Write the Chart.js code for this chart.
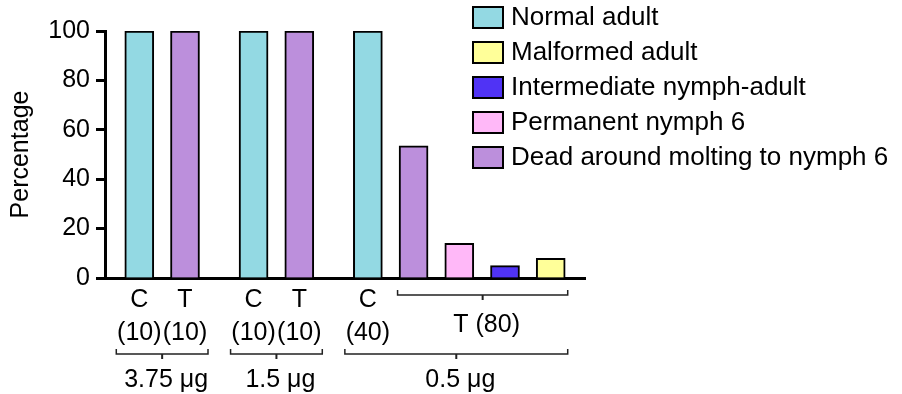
<!DOCTYPE html>
<html>
<head>
<meta charset="utf-8">
<script src="https://cdn.jsdelivr.net/npm/chart.js@4.4.1/dist/chart.umd.min.js"></script>
<style>
  html, body { margin: 0; padding: 0; background: #fff; }
</style>
</head>
<body>
<canvas id="chart" width="902" height="394"></canvas>
<script>
// x slots ('' = spacer between dose groups)
const categories = ['', 'C1', '', 'T1', '', '', 'C2', '', 'T2', '', '', 'C3', '', 'T3a', '', 'T3b', '', 'T3c', '', 'T3d', ''];

// one bar per key, value in percent, outcome index into outcomes[]
const barKeys = ['C1', 'T1', 'C2', 'T2', 'C3', 'T3a', 'T3b', 'T3c', 'T3d'];
const barValues = [100, 100, 100, 100, 100, 53.5, 14, 5, 8];
const barOutcome = [0, 4, 0, 4, 0, 4, 3, 2, 1];

const outcomes = ['Normal adult', 'Malformed adult', 'Intermediate nymph-adult', 'Permanent nymph 6', 'Dead around molting to nymph 6'];
const outcomeColors = ['#93d9e3', '#ffff99', '#5033f5', '#ffb8f8', '#bc8fdc'];

// labels under the axis
const letterKeys = ['C1', 'T1', 'C2', 'T2', 'C3'];
const letterText = ['C', 'T', 'C', 'T', 'C'];
const countText = ['(10)', '(10)', '(10)', '(10)', '(40)'];
const treatedKeys = ['T3a', 'T3d'];
const treatedText = 'T (80)';
const doseGroups = [['C1', 'T1'], ['C2', 'T2'], ['C3', 'T3d']];
const doseText = ['3.75 μg', '1.5 μg', '0.5 μg'];

const yTicks = [0, 20, 40, 60, 80, 100];

const FONT = "'Liberation Sans', Arial, sans-serif";

const datasets = outcomes.map((name, k) => ({
    label: name,
    data: barKeys.map((key, i) => barOutcome[i] === k ? { x: key, y: barValues[i] } : null).filter(d => d),
    backgroundColor: outcomeColors[k],
    borderColor: '#000',
    borderWidth: 2,
    barThickness: 29,
    grouped: false
}));

const extras = {
    id: 'extras',
    afterDraw(chart) {
        const ctx = chart.ctx;
        const xs = chart.scales.x;
        const px = key => xs.getPixelForValue(categories.indexOf(key));
        ctx.save();
        ctx.fillStyle = '#000';
        ctx.font = '25px ' + FONT;
        ctx.textAlign = 'center';
        ctx.textBaseline = 'alphabetic';

        // C / T letters and counts
        letterKeys.forEach((key, i) => {
            ctx.fillText(letterText[i], px(key), 307);
            ctx.fillText(countText[i], px(key), 340);
        });

        ctx.strokeStyle = '#222';
        ctx.lineWidth = 1.5;
        function bracket(left, right, y, down) {
            const mid = (left + right) / 2;
            ctx.beginPath();
            ctx.moveTo(left, y - 5);
            ctx.lineTo(left, y);
            ctx.lineTo(right, y);
            ctx.lineTo(right, y - 5);
            ctx.stroke();
            ctx.beginPath();
            ctx.lineWidth = 2;
            ctx.moveTo(mid, y);
            ctx.lineTo(mid, y + down);
            ctx.stroke();
            ctx.lineWidth = 1.5;
            return mid;
        }

        // bracket over the treated bars of the last group
        const tLeft = px(treatedKeys[0]) - 16;
        const tRight = px(treatedKeys[1]) + 17;
        const tMid = bracket(tLeft, tRight, 295, 5);
        ctx.fillText(treatedText, tMid + 4, 332);

        // dose brackets
        doseGroups.forEach((g, i) => {
            const left = px(g[0]) - 23;
            const right = i === doseGroups.length - 1 ? tRight : px(g[1]) + 23;
            const mid = bracket(left, right, 354, 5);
            ctx.fillText(doseText[i], mid + 4, 387);
        });

        // legend
        ctx.font = '26px ' + FONT;
        ctx.textAlign = 'left';
        ctx.textBaseline = 'middle';
        outcomes.forEach((name, k) => {
            const top = 7 + k * 35;
            ctx.fillStyle = outcomeColors[k];
            ctx.fillRect(473, top, 30, 21);
            ctx.strokeStyle = '#000';
            ctx.lineWidth = 2;
            ctx.strokeRect(473, top, 30, 21);
            ctx.fillStyle = '#000';
            ctx.fillText(name, 511, top + 11);
        });
        ctx.restore();
    }
};

new Chart(document.getElementById('chart'), {
    type: 'bar',
    data: { labels: categories, datasets: datasets },
    options: {
        responsive: false,
        animation: false,
        devicePixelRatio: 1,
        layout: { padding: { top: 31, right: 317, left: 0, bottom: 0 } },
        plugins: {
            legend: { display: false },
            tooltip: { enabled: false }
        },
        scales: {
            x: {
                type: 'category',
                grid: { display: false },
                ticks: { display: false },
                border: { display: true, color: '#000', width: 3 },
                afterFit: s => { s.height = 116; }
            },
            y: {
                min: 0,
                max: 100,
                afterBuildTicks: s => { s.ticks = yTicks.map(v => ({ value: v })); },
                ticks: { color: '#000', padding: 6, font: { family: FONT, size: 25 } },
                grid: { drawOnChartArea: false, tickLength: 9, tickWidth: 3, tickColor: '#000' },
                border: { display: true, color: '#000', width: 3 },
                title: {
                    display: true,
                    text: 'Percentage',
                    color: '#000',
                    padding: { top: 6, bottom: 0 },
                    font: { family: FONT, size: 25 }
                },
                afterFit: s => { s.width = 105; }
            }
        }
    },
    plugins: [extras]
});
</script>
</body>
</html>
